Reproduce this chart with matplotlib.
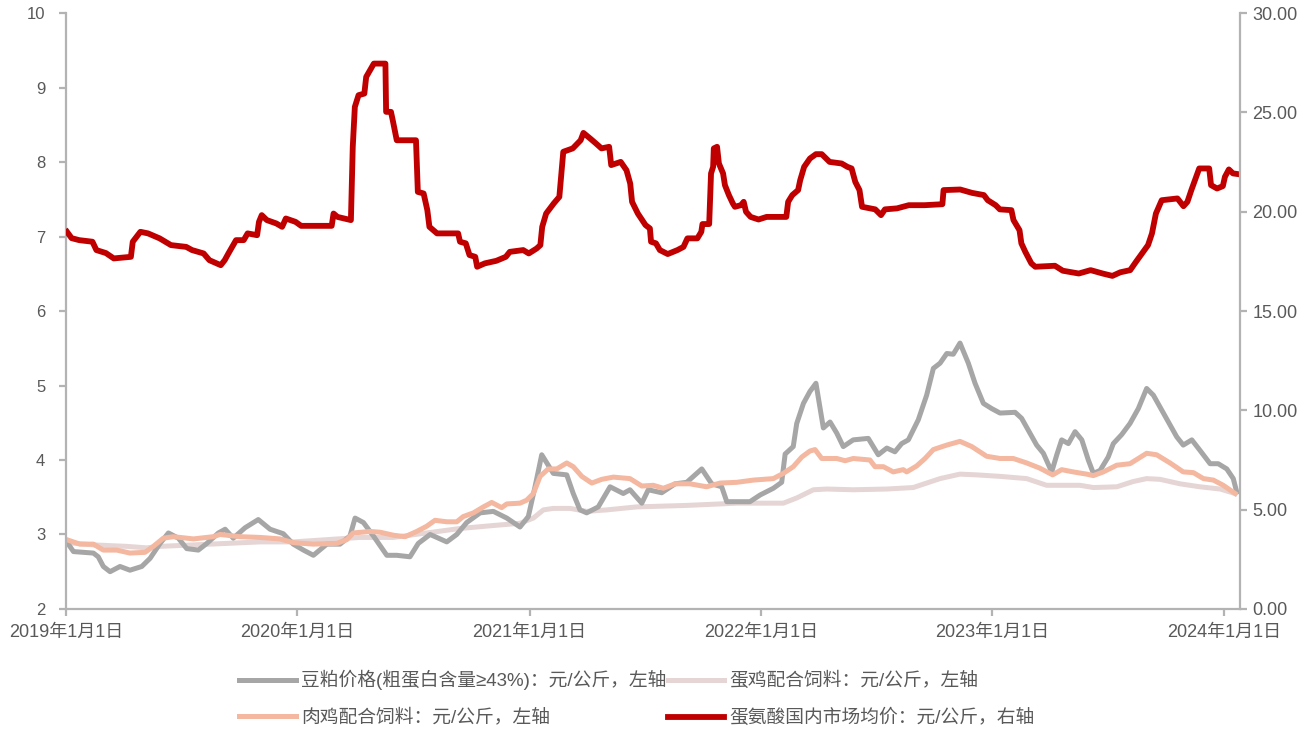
import numpy as np
import pandas as pd
import matplotlib
matplotlib.use("Agg")
import matplotlib.pyplot as plt

plt.rcParams['font.family'] = ['Liberation Sans', 'Noto Sans CJK SC', 'DejaVu Sans']

START = pd.Timestamp('2019-01-01')

# 时间用"距2019年1月1日的年数"记录
meal_t = [0.003, 0.032, 0.118, 0.139, 0.161, 0.190, 0.233, 0.276, 0.327, 0.363,
          0.406, 0.442, 0.485, 0.521, 0.571, 0.608, 0.658, 0.687, 0.722, 0.773,
          0.830, 0.881, 0.938, 0.981, 1.025, 1.068, 1.126, 1.183, 1.226, 1.248,
          1.284, 1.327, 1.385, 1.428, 1.485, 1.521, 1.572, 1.644, 1.687, 1.730,
          1.788, 1.845, 1.903, 1.960, 1.996, 2.025, 2.054, 2.104, 2.162, 2.190,
          2.219, 2.248, 2.298, 2.349, 2.406, 2.435, 2.486, 2.514, 2.572, 2.630,
          2.680, 2.745, 2.788, 2.831, 2.853, 2.896, 2.953, 2.997, 3.054, 3.090,
          3.105, 3.140, 3.155, 3.184, 3.212, 3.238, 3.270, 3.299, 3.328, 3.356,
          3.399, 3.464, 3.507, 3.544, 3.579, 3.608, 3.637, 3.680, 3.716, 3.745,
          3.774, 3.803, 3.831, 3.860, 3.896, 3.925, 3.961, 3.997, 4.033, 4.098,
          4.126, 4.155, 4.191, 4.220, 4.256, 4.278, 4.299, 4.328, 4.357, 4.386,
          4.414, 4.436, 4.465, 4.500, 4.522, 4.558, 4.594, 4.630, 4.666, 4.695,
          4.731, 4.767, 4.796, 4.824, 4.861, 4.896, 4.940, 4.975, 5.012, 5.040,
          5.055]
meal_v = [2.90, 2.77, 2.75, 2.70, 2.57, 2.50, 2.57, 2.52, 2.57, 2.68,
          2.88, 3.02, 2.95, 2.81, 2.79, 2.88, 3.02, 3.07, 2.95, 3.09,
          3.20, 3.07, 3.01, 2.87, 2.79, 2.72, 2.87, 2.87, 2.98, 3.22,
          3.16, 2.98, 2.72, 2.72, 2.70, 2.88, 3.00, 2.90, 3.00, 3.16,
          3.29, 3.31, 3.22, 3.10, 3.24, 3.64, 4.07, 3.82, 3.80, 3.55,
          3.33, 3.29, 3.37, 3.64, 3.55, 3.60, 3.42, 3.60, 3.56, 3.68,
          3.70, 3.88, 3.68, 3.64, 3.44, 3.44, 3.44, 3.53, 3.62, 3.70,
          4.08, 4.18, 4.49, 4.76, 4.92, 5.03, 4.43, 4.51, 4.36, 4.18,
          4.27, 4.29, 4.07, 4.16, 4.11, 4.22, 4.27, 4.54, 4.87, 5.23,
          5.30, 5.43, 5.42, 5.57, 5.30, 5.03, 4.76, 4.69, 4.63, 4.64,
          4.56, 4.40, 4.20, 4.09, 3.84, 4.07, 4.27, 4.22, 4.38, 4.27,
          4.00, 3.82, 3.86, 4.04, 4.22, 4.34, 4.49, 4.69, 4.96, 4.87,
          4.67, 4.47, 4.31, 4.20, 4.27, 4.13, 3.95, 3.95, 3.88, 3.75,
          3.57]

layer_t = [0.003, 0.118, 0.262, 0.348, 0.406, 0.550, 0.694, 0.838, 0.981, 1.126,
           1.269, 1.413, 1.557, 1.701, 1.845, 1.960, 2.018, 2.061, 2.104, 2.176,
           2.248, 2.335, 2.464, 2.680, 2.896, 3.097, 3.155, 3.227, 3.285, 3.399,
           3.544, 3.658, 3.774, 3.860, 3.932, 4.033, 4.148, 4.234, 4.321, 4.378,
           4.436, 4.537, 4.607, 4.666, 4.724, 4.810, 4.896, 4.983, 5.048]
layer_v = [2.89, 2.86, 2.84, 2.82, 2.84, 2.86, 2.88, 2.90, 2.90, 2.93,
           2.96, 2.96, 3.02, 3.08, 3.12, 3.15, 3.22, 3.33, 3.35, 3.35,
           3.31, 3.33, 3.37, 3.39, 3.42, 3.42, 3.49, 3.60, 3.61, 3.60,
           3.61, 3.63, 3.75, 3.81, 3.80, 3.78, 3.75, 3.66, 3.66, 3.66,
           3.63, 3.64, 3.71, 3.75, 3.74, 3.68, 3.64, 3.61, 3.55]

broiler_t = [0.003, 0.060, 0.118, 0.161, 0.219, 0.276, 0.341, 0.377, 0.420, 0.463,
             0.550, 0.636, 0.665, 0.751, 0.838, 0.924, 0.981, 1.068, 1.169, 1.212,
             1.240, 1.313, 1.356, 1.413, 1.464, 1.514, 1.557, 1.593, 1.644, 1.687,
             1.715, 1.759, 1.802, 1.838, 1.881, 1.903, 1.960, 1.989, 2.018, 2.047,
             2.082, 2.119, 2.162, 2.190, 2.227, 2.270, 2.313, 2.363, 2.435, 2.486,
             2.536, 2.579, 2.630, 2.694, 2.766, 2.824, 2.896, 2.968, 3.054, 3.097,
             3.140, 3.177, 3.212, 3.234, 3.263, 3.328, 3.364, 3.399, 3.471, 3.493,
             3.529, 3.572, 3.615, 3.630, 3.673, 3.709, 3.745, 3.803, 3.860, 3.911,
             3.975, 4.033, 4.090, 4.148, 4.205, 4.260, 4.299, 4.349, 4.407, 4.436,
             4.479, 4.537, 4.594, 4.666, 4.709, 4.767, 4.824, 4.868, 4.911, 4.954,
             4.997, 5.048]
broiler_v = [2.93, 2.87, 2.87, 2.79, 2.79, 2.75, 2.76, 2.84, 2.95, 2.97,
             2.94, 2.97, 3.00, 2.97, 2.96, 2.94, 2.89, 2.87, 2.88, 2.93,
             3.02, 3.04, 3.03, 2.99, 2.97, 3.04, 3.11, 3.19, 3.17, 3.17,
             3.24, 3.29, 3.37, 3.43, 3.36, 3.41, 3.42, 3.46, 3.55, 3.78,
             3.88, 3.88, 3.96, 3.91, 3.78, 3.69, 3.74, 3.77, 3.75, 3.65,
             3.66, 3.62, 3.68, 3.68, 3.64, 3.69, 3.70, 3.73, 3.75, 3.82,
             3.91, 4.04, 4.12, 4.14, 4.02, 4.02, 3.99, 4.02, 4.00, 3.91,
             3.91, 3.84, 3.87, 3.84, 3.92, 4.02, 4.14, 4.20, 4.25, 4.18,
             4.05, 4.02, 4.02, 3.96, 3.89, 3.80, 3.87, 3.84, 3.81, 3.79,
             3.84, 3.93, 3.95, 4.09, 4.07, 3.96, 3.84, 3.83, 3.75, 3.73,
             3.66, 3.55]

met_t = [0.004, 0.024, 0.057, 0.114, 0.131, 0.172, 0.206, 0.280, 0.288, 0.321,
         0.354, 0.404, 0.453, 0.519, 0.544, 0.594, 0.619, 0.668, 0.685, 0.701,
         0.734, 0.767, 0.784, 0.825, 0.833, 0.845, 0.867, 0.908, 0.933, 0.949,
         0.991, 1.015, 1.147, 1.155, 1.172, 1.230, 1.238, 1.247, 1.263, 1.288,
         1.296, 1.321, 1.329, 1.379, 1.382, 1.403, 1.412, 1.428, 1.511, 1.519,
         1.544, 1.560, 1.569, 1.602, 1.693, 1.701, 1.726, 1.742, 1.767, 1.775,
         1.808, 1.858, 1.899, 1.916, 1.974, 1.998, 2.032, 2.048, 2.056, 2.073,
         2.106, 2.130, 2.147, 2.188, 2.222, 2.234, 2.263, 2.288, 2.312, 2.345,
         2.354, 2.395, 2.420, 2.436, 2.444, 2.469, 2.502, 2.521, 2.526, 2.547,
         2.564, 2.598, 2.640, 2.666, 2.683, 2.726, 2.743, 2.748, 2.777, 2.785,
         2.794, 2.797, 2.811, 2.819, 2.837, 2.845, 2.862, 2.879, 2.888, 2.914,
         2.926, 2.936, 2.956, 2.990, 3.025, 3.110, 3.118, 3.136, 3.161, 3.170,
         3.187, 3.212, 3.238, 3.263, 3.297, 3.349, 3.374, 3.392, 3.408, 3.426,
         3.437, 3.494, 3.519, 3.536, 3.588, 3.639, 3.707, 3.784, 3.789, 3.861,
         3.912, 3.963, 3.980, 4.014, 4.032, 4.082, 4.091, 4.117, 4.125, 4.142,
         4.168, 4.185, 4.270, 4.304, 4.373, 4.424, 4.476, 4.518, 4.552, 4.595,
         4.620, 4.646, 4.672, 4.689, 4.706, 4.731, 4.799, 4.825, 4.842, 4.859,
         4.876, 4.893, 4.936, 4.944, 4.970, 4.995, 5.004, 5.021, 5.039, 5.064]
met_v = [18.99, 18.67, 18.57, 18.49, 18.07, 17.92, 17.65, 17.73, 18.49, 18.99,
         18.91, 18.66, 18.32, 18.23, 18.07, 17.90, 17.56, 17.31, 17.56, 17.90,
         18.57, 18.57, 18.91, 18.82, 19.49, 19.83, 19.58, 19.41, 19.24, 19.66,
         19.49, 19.29, 19.29, 19.91, 19.74, 19.58, 23.27, 25.28, 25.87, 25.95,
         26.79, 27.29, 27.46, 27.46, 25.03, 25.03, 24.53, 23.60, 23.60, 21.00,
         20.92, 20.08, 19.24, 18.91, 18.91, 18.49, 18.41, 17.82, 17.73, 17.23,
         17.40, 17.53, 17.73, 17.98, 18.07, 17.90, 18.15, 18.32, 19.24, 19.91,
         20.42, 20.75, 23.02, 23.19, 23.60, 23.97, 23.69, 23.44, 23.19, 23.27,
         22.35, 22.51, 22.09, 21.42, 20.50, 19.91, 19.33, 19.16, 18.49, 18.41,
         18.07, 17.87, 18.07, 18.23, 18.66, 18.66, 18.99, 19.38, 19.38, 21.93,
         22.26, 23.19, 23.27, 22.43, 21.93, 21.34, 20.84, 20.42, 20.25, 20.33,
         20.50, 20.00, 19.74, 19.61, 19.74, 19.74, 20.50, 20.84, 21.09, 21.59,
         22.26, 22.68, 22.90, 22.90, 22.51, 22.43, 22.26, 22.18, 21.50, 21.09,
         20.25, 20.12, 19.83, 20.12, 20.17, 20.33, 20.33, 20.38, 21.09, 21.12,
         20.95, 20.84, 20.58, 20.33, 20.12, 20.08, 19.58, 19.07, 18.41, 17.98,
         17.40, 17.23, 17.28, 17.03, 16.89, 17.06, 16.89, 16.77, 16.95, 17.06,
         17.48, 17.90, 18.32, 18.91, 19.91, 20.58, 20.67, 20.28, 20.50, 21.09,
         21.63, 22.18, 22.18, 21.34, 21.17, 21.29, 21.76, 22.13, 21.93, 21.89]

years = [2019, 2020, 2021, 2022, 2023, 2024]
labels = ['豆粕价格(粗蛋白含量≥43%)：元/公斤，左轴',
          '蛋鸡配合饲料：元/公斤，左轴',
          '肉鸡配合饲料：元/公斤，左轴',
          '蛋氨酸国内市场均价：元/公斤，右轴']


def to_dates(t):
    return START + pd.to_timedelta(np.asarray(t) * 365.25, unit='D')


AXIS_GRAY = '#B3B3B3'
TEXT_GRAY = '#595959'

fig = plt.figure(figsize=(13.08, 7.31), dpi=100)
ax = fig.add_axes([0.0505, 0.167, 0.8975, 0.815])
ax2 = ax.twinx()

l_layer, = ax.plot(to_dates(layer_t), layer_v, color='#E6D5D5', lw=3.6, label=labels[1])
l_meal, = ax.plot(to_dates(meal_t), meal_v, color='#A6A6A6', lw=3.6, label=labels[0])
l_broiler, = ax.plot(to_dates(broiler_t), broiler_v, color='#F4B7A0', lw=3.6, label=labels[2])
l_met, = ax2.plot(to_dates(met_t), met_v, color='#C00000', lw=4.2, label=labels[3],
                  solid_joinstyle='round')

ax.set_ylim(2, 10)
ax2.set_ylim(0, 30)
ax.set_yticks(range(2, 11))
ax2.set_yticks(range(0, 31, 5))
ax2.set_yticklabels([f'{v:.2f}' for v in range(0, 31, 5)])

ax.set_xlim(START, START + pd.Timedelta(days=5.069 * 365.25))
ax.set_xticks([pd.Timestamp(f'{y}-01-01') for y in years])
ax.set_xticklabels([f'{y}年1月1日' for y in years])

for a in (ax, ax2):
    for side in ('top', 'left', 'right', 'bottom'):
        a.spines[side].set_visible(False)
ax.spines['left'].set_visible(True)
ax.spines['bottom'].set_visible(True)
ax2.spines['right'].set_visible(True)
for sp in (ax.spines['left'], ax.spines['bottom'], ax2.spines['right']):
    sp.set_color(AXIS_GRAY)
    sp.set_linewidth(1.6)

ax.tick_params(axis='y', length=5, width=1.6, color=AXIS_GRAY, pad=10,
               labelsize=12, labelcolor=TEXT_GRAY)
ax.tick_params(axis='x', length=5, width=1.6, color=AXIS_GRAY, pad=6,
               labelsize=13, labelcolor=TEXT_GRAY)
ax2.tick_params(axis='y', length=5, width=1.6, color=AXIS_GRAY, pad=4,
                labelsize=13, labelcolor=TEXT_GRAY)

fig.legend([l_meal, l_broiler, l_layer, l_met],
           [labels[0], labels[2], labels[1], labels[3]],
           ncol=2, loc='center', bbox_to_anchor=(0.487, 0.0445),
           frameon=False, fontsize=13.5, handlelength=3.0, handletextpad=0.3,
           columnspacing=0.05, labelspacing=1.0, labelcolor=TEXT_GRAY)

fig.savefig('out.png', dpi=100)
